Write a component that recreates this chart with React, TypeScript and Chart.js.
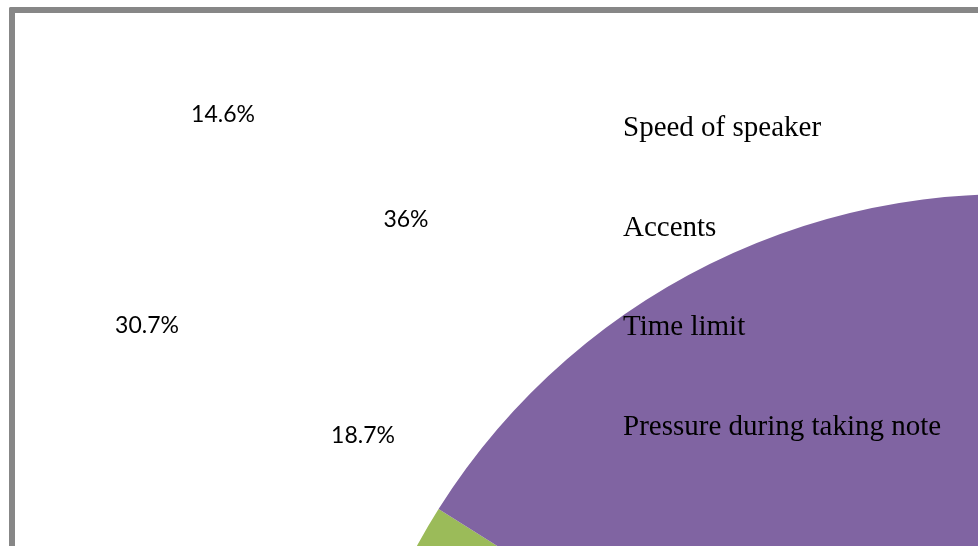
import React, { useEffect, useRef } from "react";
import { Chart, registerables } from "chart.js";

Chart.register(...registerables);

const categories = ["Speed of speaker", "Accents", "Time limit", "Pressure during taking note"];
const values = [14.6, 36, 30.7, 18.7];
const valueLabels = ["14.6%", "36%", "30.7%", "18.7%"];
const colors = ["#4F81BD", "#C0504D", "#9BBB59", "#8064A2"];

// label anchor positions (text placement only)
const labelPos = [
  [223, 122],
  [406, 227],
  [147, 333],
  [363, 443],
];

const CANVAS_W = 1709;
const CANVAS_H = 1568;

const textPlugin = {
  id: "textPlugin",
  afterDraw(chart: any) {
    const ctx = chart.ctx;
    ctx.save();
    ctx.fillStyle = "#000000";
    ctx.textBaseline = "alphabetic";
    ctx.textAlign = "center";
    ctx.font = "23px Lato";
    valueLabels.forEach((t, i) => {
      ctx.fillText(t, labelPos[i][0], labelPos[i][1]);
    });
    ctx.textAlign = "left";
    ctx.font = "29px 'Liberation Serif'";
    categories.forEach((c, i) => {
      ctx.fillText(c, 623, 136 + i * 99.7);
    });
    ctx.restore();
  },
};

export default function App() {
  const ref = useRef<HTMLCanvasElement>(null);
  useEffect(() => {
    if (!ref.current) return;
    const chart = new Chart(ref.current, {
      type: "pie",
      data: {
        labels: categories,
        datasets: [
          {
            data: values,
            backgroundColor: colors,
            borderWidth: 0,
          },
        ],
      },
      options: {
        responsive: false,
        animation: false,
        rotation: 9.5,
        layout: {
          padding: { left: 335, top: 194, right: 26, bottom: 26 },
        },
        plugins: {
          legend: { display: false },
          tooltip: { enabled: false },
        },
      },
      plugins: [textPlugin],
    });
    return () => chart.destroy();
  }, []);

  return (
    <div
      style={{
        position: "fixed",
        left: 0,
        top: 0,
        width: 978,
        height: 546,
        overflow: "hidden",
        background: "#ffffff",
      }}
    >
      <canvas
        ref={ref}
        width={CANVAS_W}
        height={CANVAS_H}
        style={{ position: "absolute", left: 0, top: 0, width: CANVAS_W, height: CANVAS_H }}
      />
      <div
        style={{
          position: "absolute",
          left: 9,
          top: 7,
          width: 2000,
          height: 2000,
          borderLeft: "6px solid #878787",
          borderTop: "6px solid #878787",
          borderTopLeftRadius: 2,
          pointerEvents: "none",
        }}
      />
    </div>
  );
}
